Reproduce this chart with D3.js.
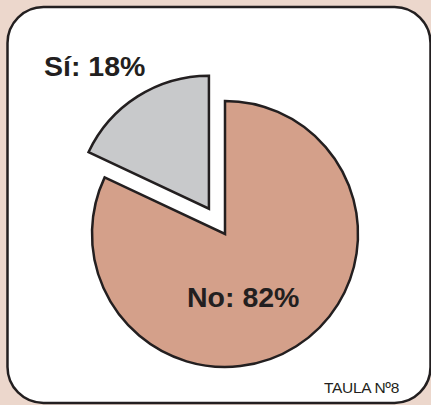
<!DOCTYPE html>
<html><head><meta charset="utf-8">
<script src="https://cdn.jsdelivr.net/npm/d3@7"></script>
<style>html,body{margin:0;padding:0;background:#ecd7cc;}svg{display:block;}</style>
</head><body>
<script>
const categories = ["No", "Sí"];
const values = [82, 18];
const colors = ["#d4a08a", "#c8c9cb"];
const footnote = "TAULA Nº8";

const W = 431, H = 405;
const svg = d3.select("body").append("svg").attr("width", W).attr("height", H);
svg.append("rect").attr("width", W).attr("height", H).attr("fill", "#ecd7cc");
svg.append("rect").attr("x", 7.5).attr("y", 7).attr("width", 423).attr("height", 396)
  .attr("rx", 36).attr("ry", 36).attr("fill", "#fff").attr("stroke", "#231f20").attr("stroke-width", 2.5);

const cx = 225, cy = 234, r = 133, explode = 30;
const pie = d3.pie().sort(null).value(d => d)(values);
const arc = d3.arc().innerRadius(0).outerRadius(r);
const g = svg.append("g").attr("transform", `translate(${cx},${cy})`);
g.selectAll("path").data(pie).join("path")
  .attr("d", arc)
  .attr("fill", (d, i) => colors[i])
  .attr("stroke", "#231f20").attr("stroke-width", 2.5).attr("stroke-linejoin", "miter")
  .attr("transform", (d, i) => {
    if (i === 0) return null;
    const a = (d.startAngle + d.endAngle) / 2;
    return `translate(${explode * Math.sin(a)},${-explode * Math.cos(a)})`;
  });

const font = "'Liberation Sans', Arial, sans-serif";
svg.append("text").attr("x", 44).attr("y", 76).attr("font-family", font).attr("font-weight", "bold")
  .attr("font-size", 28.5).attr("fill", "#231f20").text(`${categories[1]}: ${values[1]}%`);
svg.append("text").attr("x", 187).attr("y", 307).attr("font-family", font).attr("font-weight", "bold")
  .attr("font-size", 28.5).attr("fill", "#231f20").text(`${categories[0]}: ${values[0]}%`);
svg.append("text").attr("x", 399).attr("y", 393).attr("text-anchor", "end").attr("font-family", font)
  .attr("font-size", 15.5).attr("letter-spacing", -0.3).attr("fill", "#231f20").text(footnote);
</script>
</body></html>
